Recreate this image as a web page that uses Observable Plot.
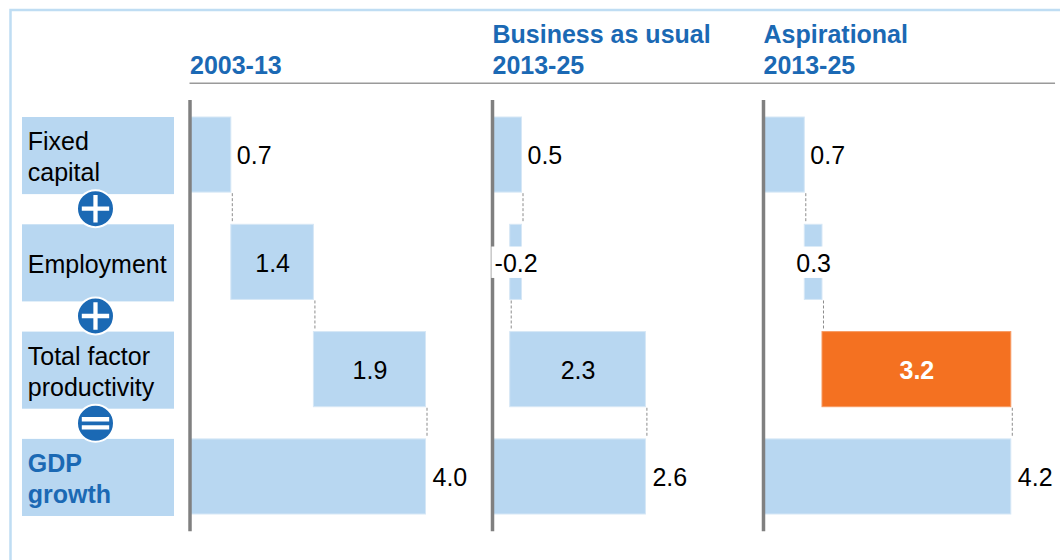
<!DOCTYPE html>
<html>
<head>
<meta charset="utf-8">
<style>
  html, body { margin: 0; padding: 0; background: #fff; }
  svg { display: block; }
</style>
<script src="https://cdn.jsdelivr.net/npm/d3@7"></script>
<script src="https://cdn.jsdelivr.net/npm/@observablehq/plot@0.6"></script>
</head>
<body>
<div id="chart"></div>
<script>
// --- Data ---
const scenarios = ["2003-13", "Business as usual\n2013-25", "Aspirational\n2013-25"];
const categories = ["Fixed\ncapital", "Employment", "Total factor\nproductivity", "GDP\ngrowth"];
const fixedCapital = [0.7, 0.5, 0.7];
const employment = [1.4, -0.2, 0.3];
const totalFactorProductivity = [1.9, 2.3, 3.2];
const gdpGrowth = [4.0, 2.6, 4.2];
const operators = ["+", "+", "="];

// --- Layout, in scale units ---
const panelOrigin = [0, 5.127, 9.72];   // where each panel's zero sits on the shared x scale
const rowSpan = 0.7;                    // bar height as a share of one row step
const labelColumn = {x1: -2.839, x2: -0.263, text: -2.75, op: -1.602};
const ruleEnd = 14.67;
const BLUE = "#1B69B4", LIGHT = "#B8D7F1", ORANGE = "#F47121", GREY = "#808080", FONT = "Liberation Sans, Arial, sans-serif";

// --- Derived waterfall records ---
const components = [fixedCapital, employment, totalFactorProductivity];
const bars = [], connectors = [];
scenarios.forEach((scenario, s) => {
  const o = panelOrigin[s];
  let running = 0;
  components.forEach((series, row) => {
    const v = series[s], start = running, end = running + v;
    bars.push({s, row, v, a: o + Math.min(start, end), b: o + Math.max(start, end), highlight: s === 2 && row === 2, total: false});
    connectors.push({x: o + end, y1: row + rowSpan + 0.01, y2: row + 1 - 0.02});
    running = end;
  });
  bars.push({s, row: 3, v: gdpGrowth[s], a: o, b: o + gdpGrowth[s], highlight: false, total: true});
});
const isNarrow = d => d.row === 1 && Math.abs(d.v) < 0.5;
const backdrops = bars.filter(isNarrow);
const center = d => (d.a + d.b) / 2;
const rowMid = d => d.row + rowSpan / 2;
const fmt = d => d.v.toFixed(1);

// --- Operator glyphs as custom symbols ---
const plusGlyph = {draw(ctx, size) {
  const r = Math.sqrt(size / Math.PI), w = r * 0.74, t = r * 0.115;
  ctx.moveTo(-w, -t); ctx.lineTo(-t, -t); ctx.lineTo(-t, -w); ctx.lineTo(t, -w); ctx.lineTo(t, -t);
  ctx.lineTo(w, -t); ctx.lineTo(w, t); ctx.lineTo(t, t); ctx.lineTo(t, w); ctx.lineTo(-t, w);
  ctx.lineTo(-t, t); ctx.lineTo(-w, t); ctx.closePath();
}};
const equalsGlyph = {draw(ctx, size) {
  const r = Math.sqrt(size / Math.PI), w = r * 0.74, a = r * 0.1, b = r * 0.34;
  ctx.rect(-w, -b, 2 * w, b - a); ctx.rect(-w, a, 2 * w, b - a);
}};
const opRows = operators.map((op, i) => ({op, y: i + 0.85}));

const chart = Plot.plot({
  width: 1060, height: 560,
  marginTop: 0, marginRight: 0, marginBottom: 0, marginLeft: 0,
  style: {fontFamily: FONT, background: "#fff", overflow: "hidden"},
  x: {axis: null, domain: [-3.212, 14.754], range: [0, 1060]},
  y: {axis: null, domain: [0, 3 + rowSpan], range: [117, 514]},
  marks: [
    Plot.frame({stroke: "#BFDDF3", strokeWidth: 2.5, insetLeft: 10, insetTop: 9.5, insetRight: -10, insetBottom: -10}),

    // category column
    Plot.rect(categories, {x1: labelColumn.x1, x2: labelColumn.x2,
      y1: (d, i) => i, y2: (d, i) => i + rowSpan, insetBottom: -2, fill: LIGHT}),
    Plot.text(categories.slice(0, 3), {x: labelColumn.text, y: (d, i) => i + rowSpan / 2, text: d => d,
      textAnchor: "start", fontSize: 25, lineHeight: 1.24, dy: 1, fill: "#000"}),
    Plot.text(categories.slice(3), {x: labelColumn.text, y: 3 + rowSpan / 2, text: d => d,
      textAnchor: "start", fontSize: 25, lineHeight: 1.24, dy: 1, fill: BLUE, fontWeight: "bold"}),

    // panel headers
    Plot.text(scenarios, {x: (d, i) => panelOrigin[i], y: -0.403, text: d => d, textAnchor: "start",
      lineAnchor: "bottom", fontSize: 25, lineHeight: 1.24, fontWeight: "bold", fill: BLUE, dx: 0}),
    Plot.ruleY([-0.32], {x1: 0, x2: ruleEnd, stroke: "#9a9a9a", strokeWidth: 1.5}),

    // waterfall bars
    Plot.rectX(bars, {x1: "a", x2: "b", y1: "row", y2: d => d.row + rowSpan,
      fill: d => d.highlight ? ORANGE : LIGHT, stroke: d => d.highlight ? "#F79A62" : "#D6E7F6", strokeWidth: 1}),
    Plot.ruleX(connectors, {x: "x", y1: "y1", y2: "y2", dx: 1, stroke: "#8c8c8c", strokeWidth: 1, strokeDasharray: "3,2"}),

    // panel axes
    Plot.ruleX(panelOrigin, {y1: -0.158, y2: 3.86, stroke: GREY, strokeWidth: 3.5}),

    // white patch behind the labels of the narrow bars
    Plot.rect(backdrops, {x1: d => center(d) - 0.41, x2: d => center(d) + 0.41,
      y1: d => d.row + 0.207, y2: d => d.row + 0.5, fill: "#fff"}),

    // value labels
    Plot.text(bars.filter(d => d.row === 0), {x: "b", y: rowMid, text: fmt, textAnchor: "start",
      dx: 5.5, dy: 1, fontSize: 25, fill: "#000"}),
    Plot.text(bars.filter(d => d.total), {x: "b", y: rowMid, text: fmt, textAnchor: "start",
      dx: 6.5, dy: 1, fontSize: 25, fill: "#000"}),
    Plot.text(bars.filter(d => d.row === 1), {x: center, y: rowMid, text: fmt, dy: 2, fontSize: 25, fill: "#000"}),
    Plot.text(bars.filter(d => d.row === 2 && !d.highlight), {x: center, y: rowMid, text: fmt, dy: 1, fontSize: 25, fill: "#000"}),
    Plot.text(bars.filter(d => d.highlight), {x: center, y: rowMid, text: fmt, dy: 1, fontSize: 25, fill: "#fff", fontWeight: "bold"}),

    // operators
    Plot.dot(opRows, {x: labelColumn.op, y: "y", r: 18.5, fill: BLUE, stroke: "#fff", strokeWidth: 2}),
    Plot.dot(opRows.filter(d => d.op === "+"), {x: labelColumn.op, y: "y", r: 18.5, symbol: plusGlyph, fill: "#fff", stroke: "none"}),
    Plot.dot(opRows.filter(d => d.op === "="), {x: labelColumn.op, y: "y", r: 18.5, symbol: equalsGlyph, fill: "#fff", stroke: "none"})
  ]
});
document.getElementById("chart").append(chart);
</script>
</body>
</html>
